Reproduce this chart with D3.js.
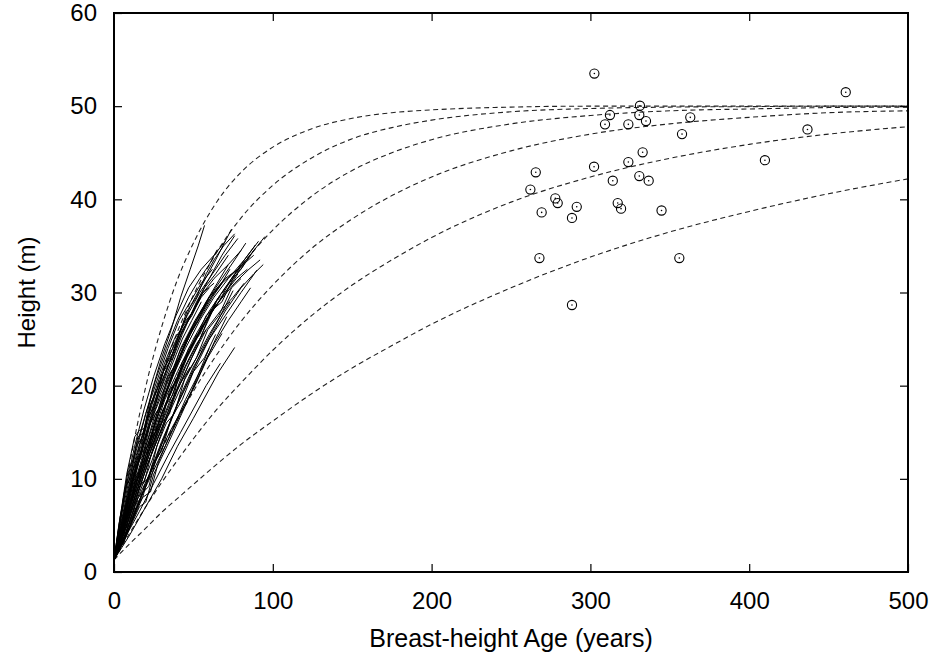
<!DOCTYPE html>
<html>
<head>
<meta charset="utf-8">
<script src="https://cdn.jsdelivr.net/npm/d3@7"></script>
<style>
body { margin: 0; background: #fff; }
text { font-family: "Liberation Sans", Arial, sans-serif; fill: #000; }
.tick text { font-size: 24px; }
.tick line { stroke: #000; stroke-width: 1.2; }
.fit { fill: none; stroke: #222; stroke-width: 1.1; stroke-dasharray: 5,3.5; }
.traj { fill: none; stroke: #000; stroke-width: 1; }
.old { fill: none; stroke: #000; stroke-width: 1.1; }
</style>
</head>
<body>
<div id="height_plot"></div>
<script>
// fitted height curves at these ages
var fitAges = [0, 10, 20, 30, 40, 50, 65, 80, 100, 125, 150, 175, 200, 250, 300, 350, 400, 450, 500];
var fitA = [1.3, 11.7, 19.9, 26.3, 31.4, 35.3, 39.8, 42.9, 45.6, 47.6, 48.7, 49.3, 49.6, 49.9, 50, 50, 50, 50, 50];
var fitB = [1.3, 9.1, 15.7, 21.2, 25.8, 29.7, 34.4, 38.0, 41.5, 44.5, 46.5, 47.7, 48.5, 49.4, 49.75, 49.9, 49.95, 50, 50];
var fitC = [1.3, 7.2, 12.5, 17.0, 21.1, 24.6, 29.1, 32.8, 36.7, 40.4, 43.1, 45.0, 46.4, 48.1, 49.0, 49.5, 49.7, 49.85, 49.9];
var fitD = [1.3, 5.6, 9.6, 13.2, 16.4, 19.4, 23.4, 26.9, 30.8, 34.8, 37.9, 40.4, 42.4, 45.2, 47.0, 48.1, 48.8, 49.3, 49.5];
var fitE = [1.3, 4.2, 7.0, 9.6, 12.0, 14.3, 17.5, 20.3, 23.8, 27.6, 30.8, 33.5, 35.9, 39.7, 42.4, 44.4, 45.9, 47.0, 47.8];
var fitF = [1.3, 3.05, 4.7, 6.4, 7.9, 9.4, 11.6, 13.7, 16.2, 19.2, 21.9, 24.3, 26.6, 30.5, 33.8, 36.5, 38.7, 40.6, 42.2];

// young stand stem analysis, [age, height] per tree
var youngTrees = [
  [[0,1.3],[4,6],[8,10.5],[13,14.5],[16,15.2],[19,15.4],[24,19.5],[30,23],[36,26],[42,29.5],[48,32.5],[53,35],[57,37.2]],
  [[0,1.2],[6,5.5],[12,10],[18,13.5],[25,17.5],[32,21],[40,25],[48,28.5],[56,31],[64,33.5],[74,36.8]],
  [[0,1.3],[5,4.5],[10,8.5],[16,12],[22,15.5],[28,19],[35,22],[43,25.5],[52,29],[60,31.5],[68,34],[76,36.1]],
  [[0,1.3],[7,5],[14,9.5],[21,13],[28,17],[36,20.5],[44,24],[52,27],[60,29.5],[68,31.5],[76,33.5],[83,35.3]],
  [[0,1.3],[8,5],[15,9],[19,9.6],[24,13],[30,16],[35,17],[40,20.5],[46,23],[55,26],[64,29],[72,31],[80,33],[89,35.1]],
  [[0,1.4],[8,6],[16,10.5],[24,14.5],[32,18.5],[40,21.5],[50,25],[60,28],[70,30.5],[80,32.5],[88,34.5],[95,36.0]],
  [[0,1.3],[9,4.5],[18,8.5],[22,9.2],[27,12.5],[34,15.5],[42,19],[50,22],[60,25],[70,28],[80,30.5],[88,32],[94,33.0]],
  [[0,1.3],[10,5],[20,9.5],[30,14],[40,18],[50,21.5],[60,25],[70,27.5],[80,30],[90,32.4]],
  [[0,1.3],[7,5.5],[14,9],[22,13],[30,17],[38,20],[47,23.5],[56,26.5],[66,29],[76,31],[85,32.5],[92,33.5]],
  [[0,1.3],[6,5],[12,9.5],[16,10.2],[20,13.5],[26,17],[30,17.8],[35,20.5],[42,24],[51,27],[60,29.5],[70,31.5],[78,32.5],[85,33.8]],
  [[0,1.3],[5,5],[10,9],[16,13],[22,16.5],[29,20],[37,23.5],[45,26.5],[54,29.5],[63,31.5],[72,33],[80,34.5]],
  [[0,1.2],[4,5.5],[9,9.5],[14,13],[20,17],[26,20.5],[33,24],[40,27],[47,29.5],[54,31.5],[60,33],[65,34.6]],
  [[0,1.3],[8,4],[16,7],[20,7.5],[25,10.5],[32,13],[40,16],[48,19],[56,22],[64,25],[71,27.4]],
  [[0,1.3],[7,4],[14,7.5],[21,10],[28,12.5],[35,15],[43,17.5],[51,20],[59,23],[68,25.6]],
  [[0,1.3],[10,4],[20,7],[30,10],[40,13.5],[50,16.5],[58,19],[66,21.5],[76,24.1]],
  [[0,1.3],[8,4],[16,6.5],[25,9.5],[34,12.5],[42,15],[50,17.5],[58,20],[67,22.4]],
  [[0,1.3],[6,5],[12,8.5],[18,12],[25,15.5],[32,19],[40,22.5],[48,25.5],[56,28],[63,30],[70,31.5]],
  [[0,1.3],[7,4.5],[14,8],[21,11.5],[29,15],[37,18.5],[45,22],[54,25],[62,28],[70,30],[78,32.0]],
  [[0,1.3],[6,5.5],[12,10],[18,13],[22,13.6],[27,17],[33,20],[41,23.5],[50,26.5],[59,29],[68,31],[78,32.5],[88,34.0]],
  [[0,1.3],[5,5.5],[10,9],[16,12.5],[22,16],[28,19.5],[35,22.5],[42,25.5],[50,28],[55,29.5],[60,30.5]],
  [[0,1.3],[4,6],[9,10],[14,13.5],[20,17],[27,20.5],[34,24],[41,27],[48,29],[55,31],[62,32.5]],
  [[0,1.3],[6,5],[12,9],[19,13],[26,16.5],[34,20],[42,23.5],[50,26.5],[58,29],[65,31],[72,33.0]],
  [[0,1.3],[5,4.5],[10,8],[16,12],[22,15.5],[29,19],[36,22],[43,25],[49,27],[55,29.0]],
  [[0,1.3],[4,5],[9,9],[14,12.5],[20,16],[26,19.5],[32,22.5],[38,25],[44,26.5],[50,28.0]],
  [[0,1.3],[7,4.5],[14,8],[21,11.5],[29,15],[37,18.5],[45,21.5],[53,24.5],[60,27.5],[66,29.5]],
  [[0,1.3],[8,4.5],[16,8.5],[24,12],[32,16],[40,19.5],[49,23],[58,26],[67,28],[75,29.5],[82,31.0]],
  [[0,1.3],[9,4.5],[18,8],[23,8.6],[28,11.8],[36,15],[45,18.5],[54,21.5],[63,24.5],[72,27],[80,29],[86,30.5]],
  [[0,1.3],[6,4.5],[12,7.5],[18,10.5],[25,14],[32,17],[39,20],[46,22.5],[52,24.5],[58,26.0]],
  [[0,1.3],[8,4],[16,7.5],[24,11],[32,14.5],[40,18],[48,21],[56,24],[64,26.5],[70,28.5],[75,30.2]],
  [[0,1.3],[6,4],[12,7.5],[19,11],[26,14.5],[33,18],[40,21],[48,24],[56,26.5],[64,28.5]],
  [[0,1.3],[4,4.5],[8,7.5],[13,10.5],[18,13.5],[24,16.5],[30,19],[36,21.5],[41,23],[45,24.5]],
  [[0,1.3],[5,4],[10,7],[16,10],[22,13],[29,16.5],[36,19.5],[43,22],[48,24],[52,25.5]],
  [[0,1.3],[4,5.5],[8,9.5],[13,13.5],[19,17.5],[25,21],[32,24.5],[39,27.5],[47,30.5],[55,32.5],[63,34],[70,35.5]],
  [[0,1.3],[5,5.5],[10,9.5],[16,13.5],[23,17.5],[30,21],[38,24.5],[46,27.5],[54,30],[62,32],[70,34],[78,35.8]],
  [[0,1.3],[7,5.5],[14,10],[21,13.5],[29,17.5],[37,21],[45,24],[54,27],[63,29.5],[72,31.5],[82,33.5],[91,35.5]],
  [[0,1.3],[6,4.5],[12,8.5],[18,12],[25,15.5],[32,19],[40,22.5],[48,25.5],[55,27.5],[62,29.5],[68,31.0]],
  [[0,1.3],[7,4],[14,7],[21,9.5],[28,12],[35,14.5],[42,17],[49,19.5],[55,22],[60,24.0]],
  [[0,1.3],[5,4],[10,6.5],[16,9.5],[22,12.5],[29,15.5],[35,18],[41,20],[48,22.0]],
  [[0,1.3],[7,5],[14,9],[21,12.5],[28,16],[36,19.5],[44,22.5],[53,25.5],[62,28],[70,30],[77,31.5],[84,32.5]],
  [[0,1.3],[7,4.5],[14,8],[21,11.5],[28,14.5],[36,17.5],[44,20.5],[52,23],[60,25.5],[67,27.5],[73,29.0]],
  [[0,1.3],[3,4],[6,8],[9,11],[12,12],[15,14.5],[19,15],[23,18],[27,19.5],[32,22],[37,23.5],[43,26.5],[50,28],[57,30.5],[64,32],[72,34]],
  [[0,1.3],[5,3.5],[10,7],[14,10.5],[19,11],[24,14.5],[30,16],[35,19.5],[41,21],[47,24],[54,25.5],[61,28],[68,29],[75,31.5],[82,33]],
  [[0,1.3],[6,3.5],[11,6],[17,9.5],[22,10],[27,13.5],[33,16],[38,17],[45,21],[52,23],[59,26],[66,27.5],[74,30.5],[80,31.5]],
  [[0,1.3],[4,4],[8,7],[12,11],[17,13],[21,16.5],[26,18],[31,21.5],[37,23],[43,26],[49,27.5],[56,30],[63,31]],
  [[0,1.3],[5,5],[9,7.5],[14,11.5],[18,12.5],[23,16],[28,17.5],[34,21],[40,22.5],[47,25.5],[53,27],[60,29.5],[66,30.5],[73,32.5]],
  [[0,1.3],[7,3.5],[13,6.5],[18,8],[24,11.5],[30,13],[36,16.5],[43,18.5],[50,21.5],[57,23],[64,25.5]],
  [[0,1.3],[3,5],[7,9],[10,10],[14,13.5],[18,14.5],[23,18],[28,20],[34,23],[40,25],[46,28],[52,29.5],[58,32],[63,33.5],[69,35],[76,36.3]],
  [[0,1.3],[6,4.5],[11,8],[15,9],[20,12.5],[25,14],[31,17.5],[37,19],[43,22.5],[50,24.5],[58,27.5],[66,29],[74,31.5],[81,33],[88,34.5]]
];

// old-growth trees
var oldAges = [302.5, 312.3, 309.2, 265.6, 302.3, 314.1, 262.2, 277.9, 279.4, 269.3, 291.4, 288.4,
               317.2, 319.3, 267.9, 288.4, 331.2, 330.8, 335.0, 323.9, 362.9, 357.7, 332.9, 323.9,
               330.8, 336.7, 344.8, 356.0, 460.8, 436.7, 409.9];
var oldHeights = [53.5, 49.05, 48.05, 42.9, 43.5, 42.0, 41.05, 40.1, 39.6, 38.6, 39.2, 38.0,
                  39.6, 39.0, 33.7, 28.66, 50.05, 49.05, 48.4, 48.05, 48.8, 47.0, 45.05, 44.0,
                  42.5, 42.0, 38.8, 33.7, 51.5, 47.5, 44.2];

var xTicks = [0, 100, 200, 300, 400, 500];
var yTicks = [0, 10, 20, 30, 40, 50, 60];

function make_height_plot() {
    var W = 935, H = 655;
    var left = 114, right = 908, top = 13, bottom = 572;

    var svg = d3.select("#height_plot").append("svg")
        .attr("width", W)
        .attr("height", H);

    var xScale = d3.scaleLinear([0, 500], [left, right]);
    var yScale = d3.scaleLinear([0, 60], [bottom, top]);

    var line = d3.line()
        .x(d => xScale(d[0]))
        .y(d => yScale(d[1]));

    var fitLine = d3.line()
        .x((d, i) => xScale(fitAges[i]))
        .y(d => yScale(d))
        .curve(d3.curveMonotoneX);

    var plot = svg.append("g");

    [fitA, fitB, fitC, fitD, fitE, fitF].forEach(function(f) {
        plot.append("path")
            .attr("d", fitLine(f))
            .attr("class", "fit");
    });

    plot.selectAll(".traj")
        .data(youngTrees)
        .join("path")
        .attr("class", "traj")
        .attr("d", line);

    var pts = plot.selectAll(".oldpt")
        .data(oldAges.map((a, i) => [a, oldHeights[i]]))
        .join("g")
        .attr("transform", d => "translate(" + xScale(d[0]) + "," + yScale(d[1]) + ")");
    pts.append("circle")
        .attr("r", 4.6)
        .attr("class", "old");
    pts.append("circle")
        .attr("r", 0.8)
        .attr("fill", "#000");

    // axes, ticks point inward on all four sides
    var tl = 8;
    svg.append("g")
        .attr("transform", "translate(0," + bottom + ")")
        .call(d3.axisBottom(xScale).tickValues(xTicks).tickSizeInner(-tl).tickSizeOuter(0).tickPadding(20))
        .call(g => g.select(".domain").remove());
    svg.append("g")
        .attr("transform", "translate(0," + top + ")")
        .call(d3.axisTop(xScale).tickValues(xTicks.slice(1, -1)).tickSizeInner(-tl).tickSizeOuter(0).tickFormat(""))
        .call(g => g.select(".domain").remove());
    svg.append("g")
        .attr("transform", "translate(" + left + ",0)")
        .call(d3.axisLeft(yScale).tickValues(yTicks).tickSizeInner(-tl).tickSizeOuter(0).tickPadding(17))
        .call(g => g.select(".domain").remove());
    svg.append("g")
        .attr("transform", "translate(" + right + ",0)")
        .call(d3.axisRight(yScale).tickValues(yTicks.slice(1, -1)).tickSizeInner(-tl).tickSizeOuter(0).tickFormat(""))
        .call(g => g.select(".domain").remove());

    svg.selectAll(".tick text").attr("font-size", null).attr("font-family", null);

    svg.append("rect")
        .attr("x", left)
        .attr("y", top)
        .attr("width", right - left)
        .attr("height", bottom - top)
        .attr("fill", "none")
        .attr("stroke", "#000")
        .attr("stroke-width", 2);

    svg.append("text")
        .text("Breast-height Age (years)")
        .attr("x", (left + right) / 2)
        .attr("y", 647)
        .attr("text-anchor", "middle")
        .style("font-size", "25px");

    svg.append("text")
        .text("Height (m)")
        .attr("transform", "translate(35," + (top + bottom) / 2 + ") rotate(-90)")
        .attr("text-anchor", "middle")
        .style("font-size", "24px");
}

make_height_plot();
</script>
</body>
</html>
